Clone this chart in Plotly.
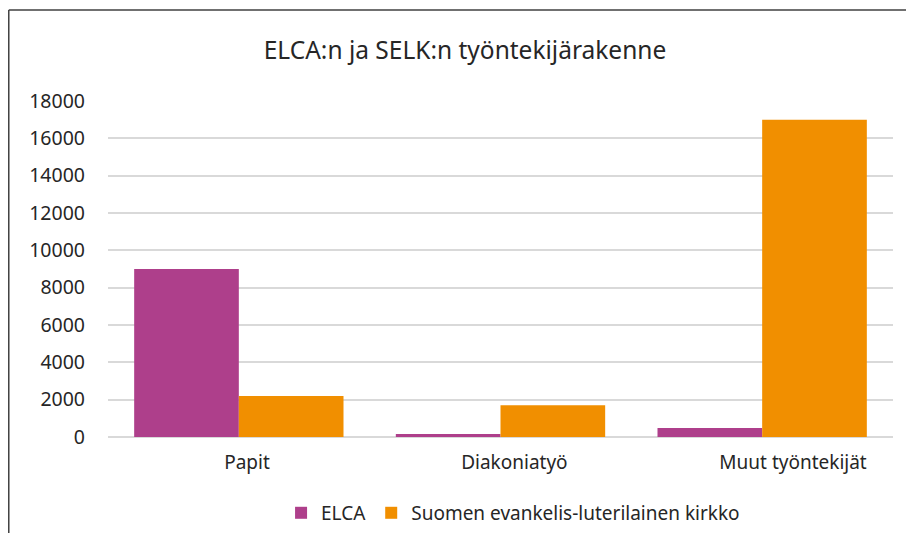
import plotly.graph_objects as go

categories = ["Papit", "Diakoniatyö", "Muut työntekijät"]
elca = [9000, 160, 480]
selk = [2200, 1700, 17000]
series_names = ["ELCA", "Suomen evankelis-luterilainen kirkko"]
y_ticks = [0, 2000, 4000, 6000, 8000, 10000, 12000, 14000, 16000, 18000]
y_tick_text = [str(v) for v in y_ticks]
# label nudges (in category units) as seen in the reference rendering
label_shift = [0.031, 0.053, 0.118]

font = "Noto Sans, sans-serif"

fig = go.Figure()
fig.add_trace(go.Bar(x=categories, y=elca, name=series_names[0],
                     marker=dict(color="#AE3F8B", line=dict(width=0))))
fig.add_trace(go.Bar(x=categories, y=selk, name=series_names[1],
                     marker=dict(color="#F18F00", line=dict(width=0))))

# outer frame (top and left edges)
fig.add_shape(type="line", xref="paper", yref="paper",
              x0=-0.1264, x1=1.1, y0=1.2708, y1=1.2708,
              line=dict(color="#404040", width=1.5))
fig.add_shape(type="line", xref="paper", yref="paper",
              x0=-0.1264, x1=-0.1264, y0=-0.35, y1=1.2708,
              line=dict(color="#404040", width=1.5))

fig.update_layout(
    width=914, height=533,
    margin=dict(l=100, r=29, t=93, b=104, autoexpand=False),
    paper_bgcolor="white", plot_bgcolor="white",
    barmode="group", bargap=0.2, bargroupgap=0,
    title=dict(text="ELCA:n ja SELK:n työntekijärakenne",
               x=0.5, xref="container", xanchor="center",
               y=1 - 42/533, yref="container", yanchor="middle",
               font=dict(family=font, size=24.5, color="#262626")),
    showlegend=True,
    legend=dict(orientation="h", x=0.516, xanchor="center",
                y=-0.226, yanchor="middle",
                font=dict(family=font, size=19, color="#262626"),
                itemwidth=30, traceorder="normal"),
    xaxis=dict(type="category", categoryorder="array", categoryarray=categories,
               range=[-0.5, 2.5],
               tickmode="array",
               tickvals=[i + s for i, s in enumerate(label_shift)],
               ticktext=categories,
               showgrid=False, showline=False, ticks="", automargin=False,
               tickfont=dict(family=font, size=19, color="#262626"),
               ticklabelstandoff=12),
    yaxis=dict(range=[0, 18000], tickvals=y_ticks, ticktext=y_tick_text,
               automargin=False,
               showgrid=True, gridcolor="#D9D9D9", gridwidth=1.5,
               zeroline=True, zerolinecolor="#D9D9D9", zerolinewidth=2,
               showline=False, ticks="",
               tickfont=dict(family=font, size=19.5, color="#262626"),
               ticklabelstandoff=22),
)

fig.write_html("out.html")
